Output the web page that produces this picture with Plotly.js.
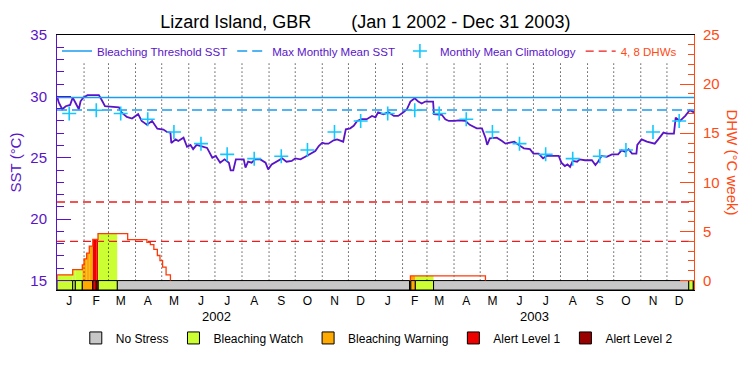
<!DOCTYPE html>
<html><head><meta charset="utf-8">
<script src="https://cdn.plot.ly/plotly-3.0.1.min.js"></script>
<style>html,body{margin:0;padding:0;background:#fff}#chart{width:750px;height:375px}</style>
</head><body><div id="chart"></div>
<script>
// ---------------- data ----------------
const seriesStartYear = 2002;
const seriesEndDay = 730;               // days after 1 Jan 2002 (end of 2003)
const years = [2002, 2003];
const monthLetters = ['J','F','M','A','M','J','J','A','S','O','N','D'];
const climatology = [28.6, 28.87, 28.6, 28.14, 27.1, 26.15, 25.28, 24.93, 25.12, 25.63, 27.1, 28.0];
const maxMonthlyMean = 28.9;
const bleachingThreshold = 29.9;
const dhwLevels = [4, 8];

// SST: day number after 1 Jan 2002 and value (deg C)
const sstDay = [0,2,6,10,15,18,21,25,27,30,35,48,52,55,61,71,74,80,86,90,93,97,103,109,115,122,126,130,131,136,139,145,149,153,156,160,166,172,178,182,187,192,197,199,202,205,214,216,219,223,227,233,239,242,246,252,258,263,269,273,279,284,290,296,300,304,307,311,317,321,328,331,336,340,344,349,355,361,365,368,374,380,386,391,397,401,405,410,414,418,422,431,432,441,445,449,456,460,468,473,481,487,491,493,496,504,510,514,519,524,529,535,542,546,552,557,561,575,578,582,585,588,591,596,599,605,613,617,620,624,630,636,643,647,651,655,659,664,665,670,676,685,689,695,699,707,709,714,720,725,730];
const sstValue = [30.04,29.5,28.95,29.2,29.3,29.9,29.5,28.95,29.6,29.9,30.1,30.1,29.6,29.2,29.17,29.1,28.7,28.33,28.2,28.4,28.55,28.0,27.7,28.0,27.37,27.3,27.1,27.05,26.2,26.5,26.37,26.64,25.9,26.05,25.7,26.05,25.9,25.8,25.0,25.15,24.6,24.87,24.6,23.97,23.97,24.87,24.87,24.2,24.68,24.6,24.87,24.87,24.6,24.05,24.46,24.74,24.95,24.68,24.74,24.95,24.87,25.07,25.28,25.55,25.96,26.23,26.15,26.15,26.42,26.5,26.31,27.32,27.4,27.6,28.0,28.14,28.14,28.41,28.3,28.7,28.55,28.7,28.41,28.41,28.7,28.95,29.58,29.85,29.58,29.42,29.58,29.58,28.55,28.5,28.14,28.0,28.0,28.05,28.0,27.68,27.4,27.4,26.64,26.05,26.58,26.64,26.37,26.15,26.23,26.31,26.05,25.77,25.7,25.34,25.34,24.95,25.15,25.15,24.6,24.33,24.46,24.25,24.74,24.68,24.87,24.8,24.8,24.41,24.68,25.15,25.07,25.28,25.28,25.6,25.5,25.7,25.34,25.34,26.05,26.5,26.31,26.15,26.5,27.05,26.97,26.97,28.27,28.0,28.41,28.87,28.7];

// Degree Heating Weeks: value held from dhwDay[i] until the next day
const dhwDay   = [0, 18, 29, 31, 34, 37, 41, 47, 81, 103, 107, 111, 115, 118, 121, 125, 130, 405, 491];
const dhwValue = [0.58, 1.12, 1.6, 2.2, 2.8, 3.5, 4.2, 4.77, 4.16, 3.9, 3.65, 3.17, 2.55, 2.04, 1.36, 0.58, 0, 0.48, 0];

// Bleaching stress level, held from stressStartDay[i] until the next day
const stressStartDay = [0, 18, 21, 29, 41, 45, 47, 69, 404, 405.5, 410.5, 431.5, 724, 729];
const stressLevel    = [1, 1, 1, 2, 3, 3, 1, 0, 1, 2, 1, 0, 1, 0];
const stressNames  = ['No Stress','Bleaching Watch','Bleaching Warning','Alert Level 1','Alert Level 2'];
const stressColors = ['#c8c8c8','#ccff33','#ffaa00','#ee0000','#990000'];

// ---------------- styles ----------------
const FONT = 'Liberation Sans, Arial, sans-serif';
const PURPLE = '#5a14c8';
const ORANGE = '#ff4a14';
const DHWLINE = '#ff3a0a';
const RED = '#ee1c1c';
const BLUE = '#1a9cf0';
const CYAN = '#14c8ff';
const STRESS_DEPTH = 0.96;   // height of the stress strip below DHW 0
const GRID_TOP = 22.3;       // top of the dotted month lines (DHW units)

// ---------------- build ----------------
const DAY = 86400000;
const t0 = Date.UTC(seriesStartYear, 0, 1);
const toMs = d => t0 + d * DAY;
const xStart = toMs(0), xEnd = toMs(seriesEndDay);

const segs = stressStartDay.map((s, i) => ({
  s, e: i + 1 < stressStartDay.length ? stressStartDay[i + 1] : seriesEndDay, level: stressLevel[i]
}));

const traces = [];

// DHW fill coloured by stress level
const fill = stressNames.map(() => ({x: [], y: [], w: []}));
dhwDay.forEach((d, i) => {
  const v = dhwValue[i];
  const e = i + 1 < dhwDay.length ? dhwDay[i + 1] : seriesEndDay;
  if (v <= 0) return;
  segs.forEach(sg => {
    if (sg.level < 1) return;
    const a = Math.max(d, sg.s), b = Math.min(e, sg.e);
    if (b > a) {
      fill[sg.level].x.push((toMs(a) + toMs(b)) / 2);
      fill[sg.level].w.push((b - a) * DAY);
      fill[sg.level].y.push(v);
    }
  });
});
fill.forEach((f, L) => {
  if (L === 0 || !f.x.length) return;
  traces.push({type: 'bar', x: f.x, y: f.y, width: f.w, base: 0, yaxis: 'y',
    marker: {color: stressColors[L], line: {width: 0}}, showlegend: false, hoverinfo: 'skip'});
});

// stress strip, one trace per level (bottom legend)
stressNames.forEach((name, L) => {
  const ss = segs.filter(sg => sg.level === L);
  const tr = {type: 'bar', name: name, legend: 'legend2', yaxis: 'y', legendrank: L + 1,
    x: ss.map(sg => (toMs(sg.s) + toMs(sg.e)) / 2),
    width: ss.map(sg => (sg.e - sg.s) * DAY),
    y: ss.map(() => STRESS_DEPTH), base: -STRESS_DEPTH,
    marker: {color: stressColors[L], line: {color: '#000', width: 1}}, hoverinfo: 'skip'};
  if (!ss.length) {            // level never reached: empty (zero-height) entry kept for the legend
    tr.x = [xStart]; tr.width = [0]; tr.y = [0];
  }
  traces.push(tr);
});

// dotted month separators
const gx = [], gy = [];
years.forEach(y => { for (let m = 0; m < 12; m++) {
  const t = Date.UTC(y, m, 1);
  if (t <= xStart) continue;
  gx.push(t, t, null); gy.push(0, GRID_TOP, null);
}});
traces.push({type: 'scatter', mode: 'lines', x: gx, y: gy, yaxis: 'y', showlegend: false, hoverinfo: 'skip',
  line: {color: '#000', width: 1, dash: '1px,3px'}});

// DHW step line
const lx = [], ly = [];
let prev = 0;
dhwDay.forEach((d, i) => {
  const v = dhwValue[i];
  if (v > 0) {
    if (prev === 0) { lx.push(toMs(d)); ly.push(0); }
    lx.push(toMs(d)); ly.push(v);
  } else if (prev > 0) {
    lx.push(toMs(d), null); ly.push(0, null);
  }
  prev = v;
});
if (prev > 0) { lx.push(xEnd); ly.push(prev); }
traces.push({type: 'scatter', mode: 'lines', x: lx, y: ly, yaxis: 'y', showlegend: false, hoverinfo: 'skip',
  line: {color: DHWLINE, width: 1.3, shape: 'hv'}});

// 4 and 8 DHW reference lines
const rx = [], ry = [];
dhwLevels.forEach(v => { rx.push(xStart, xEnd, null); ry.push(v, v, null); });
traces.push({type: 'scatter', mode: 'lines', x: rx, y: ry, yaxis: 'y', legendrank: 4,
  name: '<span style="color:' + ORANGE + '">4, 8 DHWs</span>',
  line: {color: RED, width: 1.3, dash: '8px,5px'}, hoverinfo: 'skip'});

// SST
traces.push({type: 'scatter', mode: 'lines', x: sstDay.map(toMs), y: sstValue, yaxis: 'y2',
  showlegend: false, hoverinfo: 'skip', line: {color: PURPLE, width: 1.8}});

traces.push({type: 'scatter', mode: 'lines', x: [xStart, xEnd], y: [bleachingThreshold, bleachingThreshold],
  yaxis: 'y2', name: 'Bleaching Threshold SST', legendrank: 1, line: {color: BLUE, width: 1.5}, hoverinfo: 'skip'});
traces.push({type: 'scatter', mode: 'lines', x: [xStart, xEnd], y: [maxMonthlyMean, maxMonthlyMean],
  yaxis: 'y2', name: 'Max Monthly Mean SST', legendrank: 2, line: {color: BLUE, width: 1.5, dash: '10px,5px'}, hoverinfo: 'skip'});

const cx = [], cy = [];
years.forEach(y => climatology.forEach((v, m) => { cx.push(Date.UTC(y, m, 15)); cy.push(v); }));
traces.push({type: 'scatter', mode: 'markers', x: cx, y: cy, yaxis: 'y2', name: 'Monthly Mean Climatology',
  legendrank: 3, marker: {symbol: 'cross-thin', size: 10, color: CYAN, line: {color: CYAN, width: 1.6}}, hoverinfo: 'skip'});

// month ticks at mid-month
const tickvals = [], ticktext = [];
years.forEach(y => monthLetters.forEach((l, m) => { tickvals.push(Date.UTC(y, m, 15)); ticktext.push(l); }));

const annotations = years.map(y => ({
  text: String(y), x: (Date.UTC(y, 0, 1) + Date.UTC(y + 1, 0, 1)) / 2, xref: 'x',
  y: 0, yref: 'paper', yshift: -26, yanchor: 'middle', showarrow: false,
  font: {size: 13, color: '#000', family: FONT}
}));
annotations.push({text: 'DHW (°C week)', textangle: 90, x: 1, xref: 'paper', xshift: 38, xanchor: 'center',
  y: 0.5, yref: 'paper', yanchor: 'middle', showarrow: false, font: {size: 15, color: ORANGE, family: FONT}});

const layout = {
  width: 750, height: 375,
  margin: {l: 57, r: 56, t: 35, b: 85, pad: 0},
  paper_bgcolor: '#fff', plot_bgcolor: '#fff',
  font: {family: FONT, color: '#000'},
  barmode: 'overlay', showlegend: true, hovermode: false,
  title: {text: 'Lizard Island, GBR\u00a0\u00a0\u00a0\u00a0\u00a0\u00a0\u00a0\u00a0(Jan 1 2002 - Dec 31 2003)',
    font: {size: 18, color: '#000', family: FONT}, x: 0.484, xref: 'paper', xanchor: 'center',
    y: 1 - 22 / 375, yref: 'container', yanchor: 'middle'},
  xaxis: {type: 'date', range: [xStart, xEnd], showline: true, mirror: true, linecolor: '#000', linewidth: 1,
    showgrid: false, zeroline: false, tickmode: 'array', tickvals, ticktext, ticks: '',
    tickfont: {size: 12, color: '#000'}, fixedrange: true},
  yaxis: {side: 'right', range: [-STRESS_DEPTH, 25], tickmode: 'linear', tick0: 0, dtick: 5,
    ticks: 'inside', ticklen: 14, tickwidth: 1, tickcolor: ORANGE,
    minor: {tick0: 0, dtick: 1, ticks: 'inside', ticklen: 6, tickwidth: 1, tickcolor: ORANGE},
    showline: true, linecolor: ORANGE, linewidth: 1, showgrid: false, zeroline: false,
    tickfont: {size: 15, color: ORANGE}, ticklabelstandoff: 5, fixedrange: true},
  yaxis2: {overlaying: 'y', side: 'left', range: [14.23, 35], tickmode: 'linear', tick0: 0, dtick: 5,
    ticks: 'inside', ticklen: 14, tickwidth: 1, tickcolor: PURPLE,
    minor: {tick0: 0, dtick: 1, ticks: 'inside', ticklen: 7, tickwidth: 1, tickcolor: PURPLE},
    showline: true, linecolor: PURPLE, linewidth: 1, showgrid: false, zeroline: false,
    tickfont: {size: 15, color: PURPLE}, ticklabelstandoff: 6, fixedrange: true,
    title: {text: 'SST (°C)', font: {size: 15, color: PURPLE}, standoff: 5}},
  legend: {orientation: 'h', x: 0, xanchor: 'left', y: 0.937, yanchor: 'middle',
    bgcolor: 'rgba(0,0,0,0)', font: {size: 11.5, color: PURPLE}, traceorder: 'normal'},
  legend2: {orientation: 'h', x: 0.0295, xanchor: 'left', y: -0.188, yanchor: 'middle',
    bgcolor: 'rgba(0,0,0,0)', font: {size: 12, color: '#000'}, traceorder: 'normal'},
  annotations
};

Plotly.newPlot('chart', traces, layout, {displayModeBar: false, staticPlot: true});
</script>
</body></html>
